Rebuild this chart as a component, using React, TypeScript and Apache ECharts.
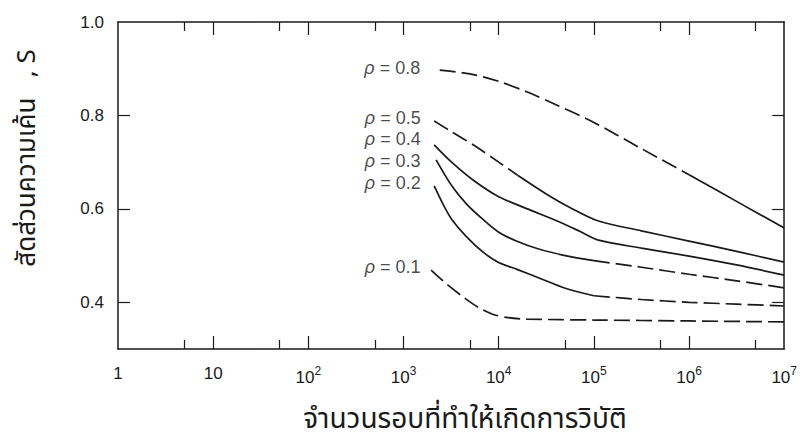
import React, { useEffect, useRef } from "react";
import * as echarts from "echarts";

// ---- data (cycles to failure N, stress ratio S) ----
const cyclesP08 = [2400, 5000, 10000, 20000, 40000, 100000, 316000, 1000000, 3160000, 10000000];
const ratioP08 = [0.897, 0.889, 0.873, 0.85, 0.823, 0.785, 0.729, 0.673, 0.616, 0.559];

const cyclesP05 = [2100, 3200, 5600, 10000, 15800, 31600, 56000, 112000, 316000, 1000000, 3160000, 10000000];
const ratioP05 = [0.788, 0.765, 0.735, 0.7, 0.672, 0.632, 0.603, 0.574, 0.553, 0.531, 0.509, 0.486];

const cyclesP04 = [2100, 3200, 5600, 10000, 20000, 40000, 71000, 112000, 316000, 1000000, 3160000, 10000000];
const ratioP04 = [0.737, 0.7, 0.659, 0.626, 0.6, 0.575, 0.552, 0.533, 0.516, 0.499, 0.48, 0.458];

const cyclesP03 = [2200, 3200, 4600, 6600, 10000, 15800, 26300, 50000, 100000, 316000, 1000000, 3160000, 10000000];
const ratioP03 = [0.705, 0.65, 0.61, 0.58, 0.55, 0.53, 0.514, 0.5, 0.489, 0.475, 0.46, 0.446, 0.431];

const cyclesP02 = [2100, 2600, 3200, 4600, 6800, 10000, 15800, 28200, 50000, 100000, 316000, 1000000, 3160000, 10000000];
const ratioP02 = [0.649, 0.61, 0.578, 0.54, 0.508, 0.485, 0.47, 0.45, 0.43, 0.414, 0.406, 0.4, 0.396, 0.392];

const cyclesP01 = [1950, 2800, 4200, 6000, 8500, 12600, 20000, 100000, 1000000, 10000000];
const ratioP01 = [0.469, 0.44, 0.412, 0.39, 0.375, 0.367, 0.364, 0.362, 0.36, 0.358];

const curveRho = ["0.8", "0.5", "0.4", "0.3", "0.2", "0.1"];

const xLabelValues = [1, 10, 100, 1000, 10000, 100000, 1000000, 10000000];
const xMajorTicks = [10, 100, 1000, 10000, 100000, 1000000];
const xMinorTicks = [5, 50, 500, 5000, 50000, 500000, 5000000];
const yLabelValues = [0.4, 0.6, 0.8, 1.0];
const yTickValues = [0.4, 0.6, 0.8];

const xTitle = "จำนวนรอบที่ทำให้เกิดการวิบัติ";
const yTitle = "สัดส่วนความเค้น   , S";

const curveCycles = [cyclesP08, cyclesP05, cyclesP04, cyclesP03, cyclesP02, cyclesP01];
const curveRatios = [ratioP08, ratioP05, ratioP04, ratioP03, ratioP02, ratioP01];

// styling: [index where the line style switches (-1: none), first part dashed]
const curveSplit: Array<[number, boolean]> = [
  [7, true],
  [4, true],
  [-1, false],
  [8, false],
  [9, false],
  [-1, true],
];
// label nudges [dx, dy] in pixels
const labelNudges: Array<[number, number]> = [
  [-14, -2],
  [-8, -3],
  [-8, -6],
  [-10, 1],
  [-8, -3],
  [-5, -3],
];

const INK = "#1a1a1a";
const FONT = "'Liberation Sans', 'DejaVu Sans', sans-serif";
const THAI_FONT = "'Noto Sans Thai', 'Noto Sans', 'DejaVu Sans', sans-serif";

function xFormatter(v: number) {
  const e = Math.round(Math.log10(v));
  if (e === 0) return "{b|1}";
  if (e === 1) return "{b|10}";
  return "{b|10}{s|" + e + "}";
}

function buildSeries() {
  const out: any[] = [];
  curveCycles.forEach((cyc, i) => {
    const pts = cyc.map((n, j) => [n, curveRatios[i][j]]);
    const [split, firstDashed] = curveSplit[i];
    const segs: Array<[any[], boolean]> = [];
    if (split < 0) {
      segs.push([pts, firstDashed]);
    } else {
      segs.push([pts.slice(0, split + 1), firstDashed]);
      segs.push([pts.slice(split), !firstDashed]);
    }
    segs.forEach(([data, dashed], k) => {
      out.push({
        type: "line",
        name: "ρ = " + curveRho[i] + " (" + k + ")",
        data,
        xAxisIndex: 0,
        yAxisIndex: 0,
        smooth: 0.3,
        symbol: "none",
        lineStyle: {
          color: INK,
          width: 1.7,
          type: dashed ? [16, 6] : "solid",
        },
        silent: true,
      });
    });
  });
  out.push({
    type: "scatter",
    name: "labels",
    xAxisIndex: 0,
    yAxisIndex: 0,
    symbolSize: 1,
    itemStyle: { color: "rgba(0,0,0,0)" },
    data: curveCycles.map((cyc, i) => ({
      value: [cyc[0], curveRatios[i][0]],
      name: curveRho[i],
      label: { offset: labelNudges[i] },
    })),
    label: {
      show: true,
      position: "left",
      distance: 5,
      formatter: "{r|ρ} = {b}",
      color: INK,
      fontSize: 18,
      fontFamily: FONT,
      rich: {
        r: { fontSize: 18, fontStyle: "italic", fontFamily: FONT, color: INK },
      },
    },
    silent: true,
  });
  return out;
}

export default function App() {
  const ref = useRef<HTMLDivElement>(null);
  useEffect(() => {
    if (!ref.current) return;
    const chart = echarts.init(ref.current, undefined, { renderer: "svg" });
    const xBase = { type: "log", logBase: 10, min: 1, max: 10000000, splitLine: { show: false } };
    const tickStyle = { color: INK, width: 1.2 };
    const lineStyle = { color: INK, width: 1.5 };
    chart.setOption({
      animation: false,
      backgroundColor: "#ffffff",
      grid: { left: 118, right: 14, top: 22, bottom: 95, show: false },
      xAxis: [
        {
          ...xBase,
          position: "bottom",
          axisLine: { show: true, lineStyle },
          axisTick: { show: true, inside: true, length: 13, customValues: xMajorTicks, lineStyle: tickStyle },
          axisLabel: {
            show: true,
            customValues: xLabelValues,
            formatter: xFormatter,
            margin: 16,
            color: INK,
            fontFamily: FONT,
            showMinLabel: true,
            showMaxLabel: true,
            rich: {
              b: { fontSize: 17, fontFamily: FONT, color: INK },
              s: { fontSize: 12, fontFamily: FONT, color: INK, padding: [0, 0, 12, 0] },
            },
          },
        },
        {
          ...xBase,
          position: "bottom",
          axisLine: { show: false },
          axisTick: { show: true, inside: true, length: 9, customValues: xMinorTicks, lineStyle: tickStyle },
          axisLabel: { show: false },
        },
        {
          ...xBase,
          position: "top",
          axisLine: { show: true, lineStyle },
          axisTick: { show: true, inside: true, length: 13, customValues: xMajorTicks, lineStyle: tickStyle },
          axisLabel: { show: false },
        },
        {
          ...xBase,
          position: "top",
          axisLine: { show: false },
          axisTick: { show: true, inside: true, length: 9, customValues: xMinorTicks, lineStyle: tickStyle },
          axisLabel: { show: false },
        },
      ],
      yAxis: [
        {
          type: "value",
          min: 0.3,
          max: 1.0,
          position: "left",
          splitLine: { show: false },
          axisLine: { show: true, lineStyle },
          axisTick: { show: true, inside: true, length: 12, customValues: yTickValues, lineStyle: tickStyle },
          axisLabel: {
            show: true,
            customValues: yLabelValues,
            formatter: (v: number) => v.toFixed(1),
            fontSize: 17,
            margin: 14,
            color: INK,
            fontFamily: FONT,
          },
        },
        {
          type: "value",
          min: 0.3,
          max: 1.0,
          position: "right",
          splitLine: { show: false },
          axisLine: { show: true, lineStyle },
          axisTick: { show: true, inside: true, length: 12, customValues: yTickValues, lineStyle: tickStyle },
          axisLabel: { show: false },
        },
      ],
      graphic: [
        {
          type: "text",
          x: 27,
          y: 158,
          rotation: Math.PI / 2,
          style: {
            text: yTitle,
            fontSize: 26,
            fill: INK,
            fontFamily: THAI_FONT,
            align: "center",
            verticalAlign: "middle",
          },
        },
        {
          type: "text",
          x: 465,
          y: 419,
          style: {
            text: xTitle,
            fontSize: 28,
            fill: INK,
            fontFamily: THAI_FONT,
            align: "center",
            verticalAlign: "middle",
          },
        },
      ],
      series: buildSeries(),
    });
    return () => chart.dispose();
  }, []);
  return (
    <div
      ref={ref}
      style={{ position: "fixed", left: 0, top: 0, width: 800, height: 444, background: "#fff" }}
    />
  );
}
